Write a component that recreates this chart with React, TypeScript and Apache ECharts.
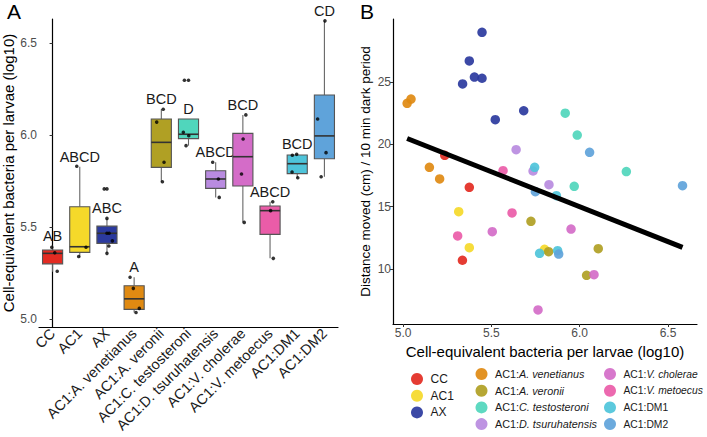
import React, { useEffect, useRef } from "react";
import * as echarts from "echarts";

const FONT = "Liberation Sans, Arial, Helvetica, sans-serif";

const groups = [
  "CC",
  "AC1",
  "AX",
  "AC1:A. venetianus",
  "AC1:A. veronii",
  "AC1:C. testosteroni",
  "AC1:D. tsuruhatensis",
  "AC1:V. cholerae",
  "AC1:V. metoecus",
  "AC1:DM1",
  "AC1:DM2",
];

const colors = [
  "#E32B22",
  "#F5D92A",
  "#2B3A9E",
  "#E08A12",
  "#B0A024",
  "#50D6BC",
  "#B98BE0",
  "#D46CC8",
  "#EA5CA8",
  "#4EC4DA",
  "#5FA3DA",
];

// [lower whisker, Q1, median, Q3, upper whisker]
const boxStats = [
  [5.257, 5.3, 5.357, 5.375, 5.398],
  [5.335, 5.3625, 5.393, 5.61, 5.828],
  [5.357, 5.411, 5.466, 5.505, 5.547],
  [5.036, 5.053, 5.11, 5.181, 5.227],
  [5.746, 5.824, 5.96, 6.087, 6.14],
  [5.942, 5.98, 6.004, 6.087, 6.087],
  [5.661, 5.71, 5.761, 5.806, 5.852],
  [5.525, 5.723, 5.882, 6.009, 6.109],
  [5.33, 5.46, 5.589, 5.614, 5.637],
  [5.768, 5.79, 5.844, 5.891, 5.895],
  [5.773, 5.871, 5.995, 6.217, 6.62],
];

const letters = ["AB", "ABCD", "ABC", "A", "BCD", "D", "ABCD", "BCD", "ABCD", "BCD", "CD"];

// individual values per group (panel A)
const pointsA = [
  [5.39, 5.36, 5.26],
  [5.83, 5.39, 5.34],
  [5.707, 5.547, 5.466, 5.466, 5.425, 5.397, 5.357],
  [5.227, 5.167, 5.058, 5.036],
  [6.14, 6.07, 5.852, 5.746],
  [6.297, 6.015, 5.996, 5.942],
  [5.852, 5.761, 5.661],
  [6.109, 5.978, 5.788, 5.525],
  [5.637, 5.589, 5.33],
  [5.89, 5.895, 5.799, 5.768],
  [6.62, 6.087, 5.904, 5.773],
];

// horizontal jitter of each point (category units)
const jitterA = [
  [-0.03, 0.08, 0.17],
  [-0.11, 0.23, -0.04],
  [-0.1, 0, 0, 0.08, 0.2, 0.07, 0],
  [-0.15, -0.03, 0.19, 0.07],
  [0.07, -0.17, 0.1, 0.04],
  [-0.15, -0.19, 0.01, -0.09],
  [-0.11, 0.1, 0.13],
  [0.11, 0.01, -0.05, 0.05],
  [0.1, 0.02, 0.12],
  [-0.18, -0.02, -0.19, 0.02],
  [0.02, -0.25, 0.06, -0.12],
];

// outliers [group index, value]
const outliersA = [
  [2, 5.707],
  [5, 6.297],
];

// panel B: [bacteria log10, distance]
const scatterB = [
  [[5.236, 19.13], [5.375, 16.56], [5.336, 10.7]],
  [[5.315, 14.6], [5.375, 11.71], [5.801, 11.58]],
  [[5.447, 29.01], [5.375, 26.71], [5.404, 25.42], [5.447, 25.32], [5.337, 24.86], [5.683, 22.71], [5.522, 21.99]],
  [[5.023, 23.31], [5.045, 23.65], [5.149, 18.17], [5.207, 17.23]],
  [[5.724, 13.83], [5.824, 11.39], [6.105, 11.63], [6.039, 9.49]],
  [[5.918, 22.51], [5.986, 20.76], [6.264, 17.82], [5.969, 16.64]],
  [[5.64, 19.58], [5.736, 17.87], [5.826, 16.77]],
  [[5.951, 13.21], [6.081, 9.54], [5.764, 6.71], [5.505, 13.0]],
  [[5.566, 17.9], [5.617, 14.5], [5.309, 12.65]],
  [[5.745, 18.17], [5.868, 15.89], [5.773, 11.26], [5.875, 11.47]],
  [[6.056, 19.37], [6.582, 16.69], [5.749, 16.21], [5.881, 11.2]],
];

const fitLine = [
  [5.023, 20.48],
  [6.582, 11.74],
];

const yTicksA = [5.0, 5.5, 6.0, 6.5];
const xTicksB = [5.0, 5.5, 6.0, 6.5];
const yTicksB = [10, 15, 20, 25];

const legendCols = [
  [0, 1, 2],
  [3, 4, 5, 6],
  [7, 8, 9, 10],
];

function legendFormatter(name: string) {
  const idx = name.indexOf(":");
  if (idx < 0) return "{a|" + name + "}";
  const pre = name.slice(0, idx + 1);
  const rest = name.slice(idx + 1);
  if (rest.startsWith("DM")) return "{a|" + name + "}";
  return "{a|" + pre + "}{i|" + rest + "}";
}

export default function App() {
  const ref = useRef<HTMLDivElement>(null);

  useEffect(() => {
    if (!ref.current) return;
    const chart = echarts.init(ref.current, undefined, { renderer: "svg" });

    const boxData = boxStats.map((s, i) => [i, ...s]);

    const jitterData: number[][] = [];
    pointsA.forEach((vals, i) => {
      vals.forEach((v, k) => jitterData.push([i + jitterA[i][k], v]));
    });

    const axisLineStyle = { color: "#000", width: 1.2 };
    const tickStyle = { color: "#333", width: 1 };
    const legendFonts = [12, 10.8, 10.3];
    const legendLefts = [411, 475.5, 604];

    const option: any = {
      animation: false,
      backgroundColor: "#fff",
      textStyle: { fontFamily: FONT },
      grid: [
        { left: 39, top: 19, width: 299, height: 308 },
        { left: 393, top: 19, width: 304, height: 305 },
      ],
      xAxis: [
        {
          type: "category",
          gridIndex: 0,
          data: groups,
          boundaryGap: true,
          axisLine: { lineStyle: axisLineStyle },
          axisTick: { alignWithLabel: true, length: 3, lineStyle: tickStyle },
          axisLabel: {
            interval: 0,
            rotate: 45,
            margin: 4,
            fontSize: 14.5,
            color: "#1a1a1a",
            fontFamily: FONT,
          },
        },
        {
          type: "value",
          gridIndex: 0,
          min: -0.5,
          max: 10.5,
          show: false,
        },
        {
          type: "value",
          gridIndex: 1,
          min: 4.943,
          max: 6.664,
          axisLine: { lineStyle: axisLineStyle },
          axisTick: { length: 3, lineStyle: tickStyle, customValues: xTicksB },
          splitLine: { show: false },
          axisLabel: {
            customValues: xTicksB,
            formatter: (v: number) => v.toFixed(1),
            fontSize: 12,
            margin: 3,
            color: "#4d4d4d",
            fontFamily: FONT,
          },
          name: "Cell-equivalent bacteria per larvae (log10)",
          nameLocation: "middle",
          nameGap: 18,
          nameTextStyle: { fontSize: 15, color: "#000", fontFamily: FONT },
        },
      ],
      yAxis: [
        {
          type: "value",
          gridIndex: 0,
          min: 4.957,
          max: 6.63,
          axisLine: { show: true, lineStyle: axisLineStyle },
          axisTick: { show: true, length: 3, lineStyle: tickStyle, customValues: yTicksA },
          splitLine: { show: false },
          axisLabel: {
            customValues: yTicksA,
            formatter: (v: number) => v.toFixed(1),
            fontSize: 12,
            margin: 2,
            color: "#4d4d4d",
            fontFamily: FONT,
          },
          name: "Cell-equivalent bacteria per larvae (log10)",
          nameLocation: "middle",
          nameGap: 23,
          nameTextStyle: { fontSize: 15, color: "#000", fontFamily: FONT },
        },
        {
          type: "value",
          gridIndex: 1,
          min: 5.58,
          max: 30.08,
          axisLine: { show: true, lineStyle: axisLineStyle },
          axisTick: { show: true, length: 3, lineStyle: tickStyle, customValues: yTicksB },
          splitLine: { show: false },
          axisLabel: {
            customValues: yTicksB,
            fontSize: 12,
            margin: 2,
            color: "#4d4d4d",
            fontFamily: FONT,
          },
          name: "Distance moved (cm) / 10 min dark period",
          nameLocation: "middle",
          nameGap: 21,
          nameTextStyle: { fontSize: 13.5, color: "#000", fontFamily: FONT },
        },
      ],
      legend: legendCols.map((col, c) => ({
        data: col.map((i) => groups[i]),
        orient: "vertical",
        left: legendLefts[c],
        top: c === 0 ? 373 : 368,
        height: 80,
        padding: 0,
        itemWidth: 17,
        itemHeight: 12,
        itemGap: 4.7,
        icon: "circle",
        selectedMode: false,
        formatter: legendFormatter,
        textStyle: {
          fontSize: legendFonts[c],
          lineHeight: 12,
          color: "#1a1a1a",
          fontFamily: FONT,
          rich: {
            a: { fontSize: legendFonts[c], color: "#1a1a1a", fontFamily: FONT, lineHeight: 12 },
            i: { fontSize: legendFonts[c], color: "#1a1a1a", fontFamily: FONT, fontStyle: "italic", lineHeight: 12 },
          },
        },
      })),
      graphic: [
        { type: "text", left: 7, top: 1, style: { text: "A", fontSize: 21, fill: "#000", fontFamily: FONT } },
        { type: "text", left: 360, top: 1, style: { text: "B", fontSize: 21, fill: "#000", fontFamily: FONT } },
      ],
      series: [
        {
          type: "custom",
          name: "box",
          xAxisIndex: 0,
          yAxisIndex: 0,
          data: boxData,
          encode: { x: 0, y: [1, 2, 3, 4, 5] },
          renderItem: (params: any, api: any) => {
            const i = api.value(0);
            const low = api.coord([i, api.value(1)]);
            const q1 = api.coord([i, api.value(2)]);
            const med = api.coord([i, api.value(3)]);
            const q3 = api.coord([i, api.value(4)]);
            const high = api.coord([i, api.value(5)]);
            const w = api.size([1, 0])[0] * 0.74;
            const x = low[0];
            return {
              type: "group",
              children: [
                { type: "line", shape: { x1: x, y1: high[1], x2: x, y2: q3[1] }, style: { stroke: "#666", lineWidth: 1.1 } },
                { type: "line", shape: { x1: x, y1: q1[1], x2: x, y2: low[1] }, style: { stroke: "#666", lineWidth: 1.1 } },
                {
                  type: "rect",
                  shape: { x: x - w / 2, y: q3[1], width: w, height: q1[1] - q3[1] },
                  style: { fill: colors[i], stroke: "#555", lineWidth: 1.1 },
                },
                {
                  type: "line",
                  shape: { x1: x - w / 2, y1: med[1], x2: x + w / 2, y2: med[1] },
                  style: { stroke: "#333", lineWidth: 1.6 },
                },
                {
                  type: "text",
                  x: x,
                  y: high[1] - 10,
                  style: {
                    text: letters[i],
                    textAlign: "center",
                    textVerticalAlign: "middle",
                    fontSize: 14.5,
                    fill: "#1a1a1a",
                    fontFamily: FONT,
                  },
                },
              ],
            };
          },
          z: 2,
        },
        {
          type: "scatter",
          name: "points",
          xAxisIndex: 1,
          yAxisIndex: 0,
          data: jitterData,
          symbolSize: 3.6,
          itemStyle: { color: "#000" },
          z: 3,
        },
        {
          type: "scatter",
          name: "outliers",
          xAxisIndex: 1,
          yAxisIndex: 0,
          data: outliersA.map(([i, v]) => [i, v]),
          symbolSize: 3.6,
          itemStyle: { color: "#000" },
          z: 3,
        },
        ...scatterB.map((pts, i) => ({
          type: "scatter",
          name: groups[i],
          xAxisIndex: 2,
          yAxisIndex: 1,
          data: pts,
          symbolSize: 9.5,
          itemStyle: { color: colors[i], opacity: 0.92 },
          z: 2,
        })),
        {
          type: "line",
          name: "fit",
          xAxisIndex: 2,
          yAxisIndex: 1,
          data: fitLine,
          symbol: "none",
          lineStyle: { color: "#000", width: 5 },
          z: 4,
        },
      ],
    };

    chart.setOption(option);
    return () => chart.dispose();
  }, []);

  return (
    <div
      ref={ref}
      style={{ position: "fixed", left: 0, top: 0, width: 707, height: 437, background: "#fff" }}
    />
  );
}
